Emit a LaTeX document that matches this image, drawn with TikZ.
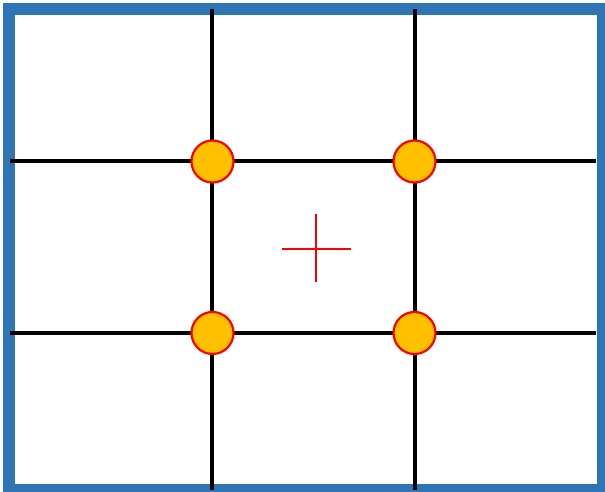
\documentclass[tikz,border=0pt]{standalone}
\definecolor{frameblue}{HTML}{2E75B6}
\definecolor{dotfill}{HTML}{FFC000}
\tikzset{
  gridline/.style={black, line width=3.5pt},
  dot/.style={circle, draw=red, fill=dotfill, line width=2.2pt, minimum size=42pt, inner sep=0pt},
  crossline/.style={red, line width=2.8pt},
  framebox/.style={draw=frameblue, line width=12pt}
}
\begin{document}
\begin{tikzpicture}[x=1pt, y=-1pt]
\useasboundingbox (0,0) rectangle (605,492);
% frame
\draw[framebox] (9,9) rectangle (603,490);
% grid line endpoints
\coordinate (v1t) at (212,9);
\coordinate (v1b) at (212,490);
\coordinate (v2t) at (415,9);
\coordinate (v2b) at (415,490);
\coordinate (h1l) at (10,161);
\coordinate (h1r) at (596,161);
\coordinate (h2l) at (10,333);
\coordinate (h2r) at (596,333);
\draw[gridline] (v1t) -- (v1b);
\draw[gridline] (v2t) -- (v2b);
\draw[gridline] (h1l) -- (h1r);
\draw[gridline] (h2l) -- (h2r);
% intersection dots
\node[dot] (p11) at (212.5,161.5) {};
\node[dot] (p12) at (414.5,161.5) {};
\node[dot] (p21) at (212.5,333) {};
\node[dot] (p22) at (414.5,333) {};
% centre cross
\coordinate (cl) at (282,249);
\coordinate (cr) at (351,249);
\coordinate (ct) at (316,214);
\coordinate (cb) at (316,282);
\draw[crossline] (cl) -- (cr);
\draw[crossline] (ct) -- (cb);
\end{tikzpicture}
\end{document}
